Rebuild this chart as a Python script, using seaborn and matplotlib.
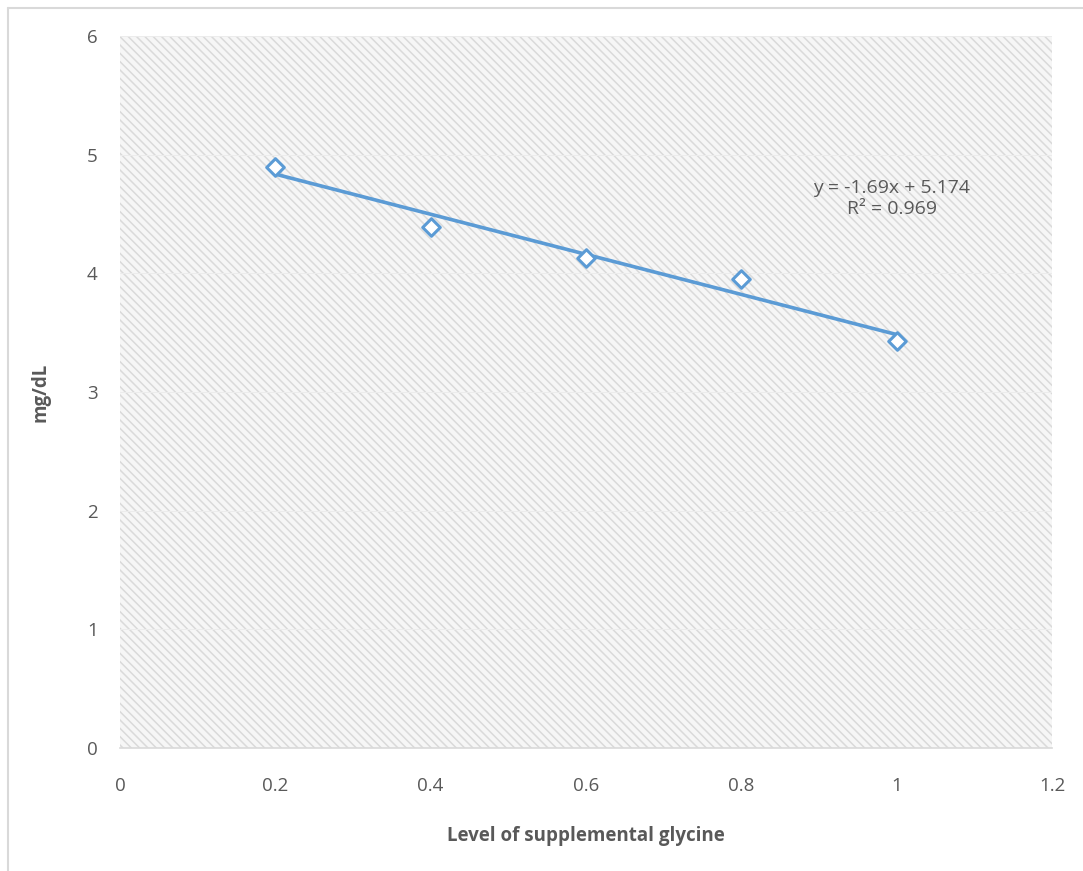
import matplotlib
matplotlib.use("Agg")
import matplotlib.pyplot as plt
import seaborn as sns
import pandas as pd
from matplotlib.patches import Rectangle
from matplotlib.lines import Line2D

# Glycine supplementation levels and measured concentration
glycine_level = [0.2, 0.4, 0.6, 0.8, 1.0]
conc_mg_dl = [4.90, 4.39, 4.13, 3.95, 3.43]

# Linear trendline reported on the chart
slope = -1.69
intercept = 5.174
r_squared = 0.969

x_ticks = [0, 0.2, 0.4, 0.6, 0.8, 1, 1.2]
x_tick_labels = ["0", "0.2", "0.4", "0.6", "0.8", "1", "1.2"]
y_ticks = [0, 1, 2, 3, 4, 5, 6]

sns.set_theme(style="white")
plt.rcParams["font.family"] = ["Open Sans", "DejaVu Sans"]
plt.rcParams["hatch.linewidth"] = 1.1

text_grey = "#595959"
blue = "#5b9bd5"
fs = 13.5

df = pd.DataFrame({"level": glycine_level, "conc": conc_mg_dl})
df["trend"] = slope * df["level"] + intercept

fig = plt.figure(figsize=(10.83, 8.71), dpi=100)
ax = fig.add_axes([120 / 1083, 1 - 748 / 871, (1052 - 120) / 1083, (748 - 36) / 871])

# hatched plot-area background
ax.add_patch(Rectangle((0, 0), 1, 1, transform=ax.transAxes,
                       facecolor="#f6f6f6", edgecolor="#dadada",
                       hatch="\\\\\\\\", linewidth=0, zorder=0))

for yv in y_ticks[1:]:
    ax.axhline(yv, color="#ececec", lw=0.7, zorder=0.5)

sns.lineplot(data=df, x="level", y="trend", ax=ax, color=blue, lw=2.6, zorder=2)
sns.scatterplot(data=df, x="level", y="conc", ax=ax, marker="D", s=80,
                facecolor="white", edgecolor=blue, linewidth=2.2, zorder=3)

ax.set_xlim(0, 1.2)
ax.set_ylim(0, 6)
ax.set_xticks(x_ticks)
ax.set_xticklabels(x_tick_labels)
ax.set_yticks(y_ticks)
ax.tick_params(axis="both", colors=text_grey, labelsize=fs, length=0)
ax.tick_params(axis="x", pad=21)
ax.tick_params(axis="y", pad=16)

for side in ["top", "right", "left"]:
    ax.spines[side].set_visible(False)
ax.spines["bottom"].set_color("#d9d9d9")
ax.spines["bottom"].set_linewidth(1.2)

ax.set_xlabel("Level of supplemental glycine", color=text_grey,
              fontsize=fs, fontweight="bold", labelpad=22)
ax.set_ylabel("mg/dL", color=text_grey, fontsize=fs, fontweight="bold", labelpad=26)

ax.text(0.994, 4.63, f"y = {slope}x + {intercept}\nR\u00b2 = {r_squared}",
        ha="center", va="center", color=text_grey, fontsize=14,
        linespacing=1.2, zorder=4)

# outer chart frame
fig.add_artist(Line2D([8 / 1083, 8 / 1083], [0, 1 - 8 / 871],
                      transform=fig.transFigure, color="#d9d9d9", lw=1.5))
fig.add_artist(Line2D([8 / 1083, 1], [1 - 8 / 871, 1 - 8 / 871],
                      transform=fig.transFigure, color="#d9d9d9", lw=1.5))

fig.savefig("out.png", dpi=100)
